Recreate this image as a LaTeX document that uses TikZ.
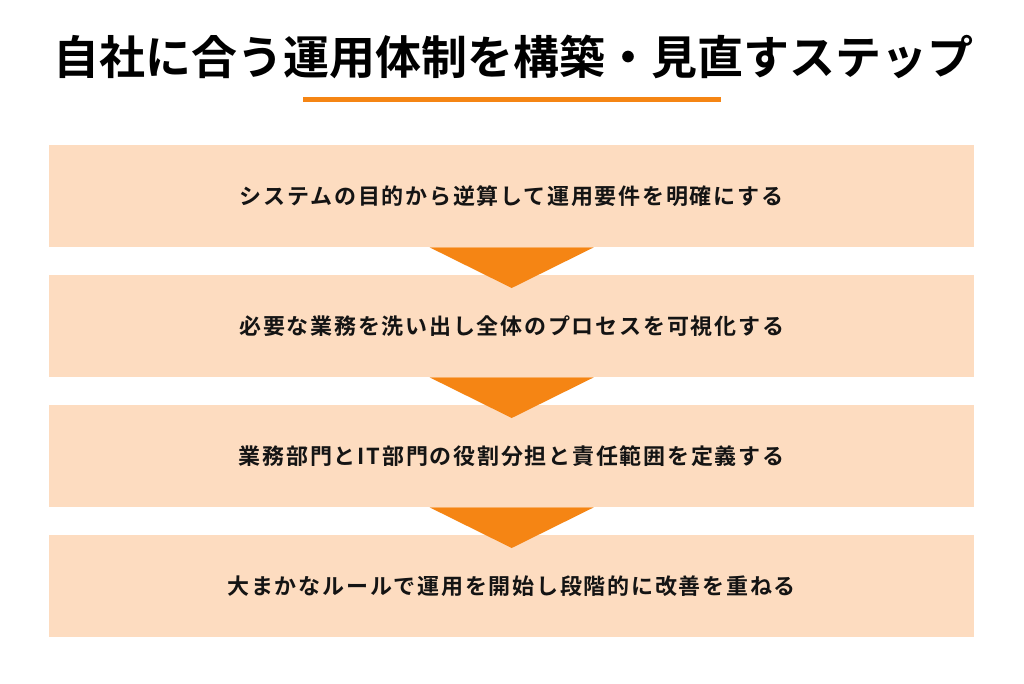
\documentclass[tikz,border=0pt]{standalone}
\usepackage{fontspec}
\newfontfamily\cjkb[LetterSpace=0]{Noto Sans CJK JP Bold}
\newfontfamily\cjkbox[LetterSpace=8]{Noto Sans CJK JP Bold}
\definecolor{peach}{RGB}{253,220,192}
\definecolor{orng}{RGB}{245,133,20}
\definecolor{ink}{RGB}{20,20,20}
\begin{document}
\begin{tikzpicture}[x=1pt,y=-1pt,
  stepbox/.style={fill=peach,draw=none,minimum width=925pt,minimum height=102pt,inner sep=0pt,anchor=north west,
    font=\cjkbox\fontsize{22}{25}\selectfont,text=ink},
  tri/.style={fill=orng,draw=none}]
\useasboundingbox (0,0) rectangle (1024,683);
\fill[white] (0,0) rectangle (1024,683);
\node[font=\cjkb\fontsize{46}{50}\selectfont,text=black] (title) at (513,57) {自社に合う運用体制を構築・見直すステップ};
\fill[orng] (303,97) rectangle (721,102);
\node[stepbox] (s1) at (49,145) {システムの目的から逆算して運用要件を明確にする};
\node[stepbox] (s2) at (49,275) {必要な業務を洗い出し全体のプロセスを可視化する};
\node[stepbox] (s3) at (49,405) {業務部門とIT部門の役割分担と責任範囲を定義する};
\node[stepbox] (s4) at (49,535) {大まかなルールで運用を開始し段階的に改善を重ねる};
\foreach \a/\b in {s1/s2,s2/s3,s3/s4}{
  \fill[orng] ([xshift=-82pt]\a.south) -- ([xshift=82pt]\a.south) -- ([yshift=-13pt]\b.north) -- cycle;
}
\end{tikzpicture}
\end{document}
